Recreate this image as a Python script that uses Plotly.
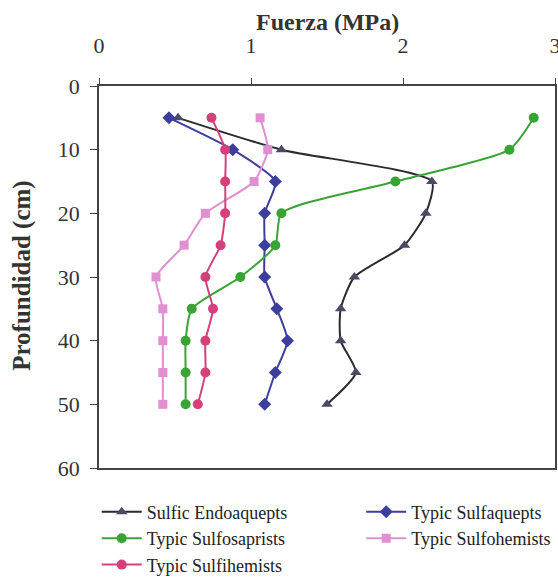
import plotly.graph_objects as go

depth = [5, 10, 15, 20, 25, 30, 35, 40, 45, 50]
sulfic_endoaquepts = [0.52, 1.20, 2.19, 2.15, 2.01, 1.68, 1.59, 1.59, 1.69, 1.50]
typic_sulfaquepts = [0.46, 0.88, 1.16, 1.09, 1.09, 1.09, 1.17, 1.24, 1.16, 1.09]
typic_sulfosaprists = [2.86, 2.70, 1.95, 1.20, 1.16, 0.93, 0.61, 0.57, 0.57, 0.57]
typic_sulfohemists = [1.06, 1.11, 1.02, 0.70, 0.56, 0.375, 0.42, 0.42, 0.42, 0.42]
typic_sulfihemists = [0.74, 0.83, 0.83, 0.83, 0.80, 0.70, 0.75, 0.70, 0.70, 0.65]
x_ticks = [0, 1, 2, 3]

series = [
    ("Sulfic Endoaquepts", sulfic_endoaquepts, "#2b2b2b", "#4a4a66", "triangle-up", 10, "legend"),
    ("Typic Sulfaquepts", typic_sulfaquepts, "#3d3d9e", "#3d3d9e", "diamond", 10, "legend2"),
    ("Typic Sulfosaprists", typic_sulfosaprists, "#3aa335", "#3aa335", "circle", 10, "legend"),
    ("Typic Sulfohemists", typic_sulfohemists, "#e08fd0", "#e08fd0", "square", 9, "legend2"),
    ("Typic Sulfihemists", typic_sulfihemists, "#d4407c", "#d4407c", "circle", 10, "legend"),
]

fig = go.Figure()
for name, vals, lc, mc, sym, sz, lg in series:
    fig.add_trace(go.Scatter(
        x=vals, y=depth, name=name, mode="lines+markers", legend=lg,
        line=dict(color=lc, width=2, shape="spline", smoothing=0.6),
        marker=dict(color=mc, symbol=sym, size=sz),
    ))

serif = "Liberation Serif"
leg_common = dict(
    orientation="v", xanchor="left", yanchor="top",
    font=dict(family=serif, size=18, color="#222"),
    itemwidth=40, bgcolor="rgba(0,0,0,0)", tracegroupgap=0,
)
fig.update_layout(
    width=558, height=584,
    margin=dict(l=99, r=3, t=86, b=116, autoexpand=False),
    paper_bgcolor="white", plot_bgcolor="white",
    font=dict(family=serif, size=22, color="#222"),
    showlegend=True,
    legend=dict(x=-0.005, y=-0.067, **leg_common),
    legend2=dict(x=0.575, y=-0.067, **leg_common),
    xaxis=dict(
        side="top", range=[0, 3], tickmode="array", tickvals=x_ticks,
        showgrid=False, zeroline=False,
        showline=True, linecolor="#444", linewidth=1.5, mirror=True,
        ticks="outside", ticklen=6, tickcolor="#444", automargin=False,
        tickfont=dict(family=serif, size=22, color="#333"),
        ticklabelstandoff=16, ticklabeloverflow="allow",
    ),
    yaxis=dict(
        range=[60, 0], dtick=10, showgrid=False, zeroline=False,
        showline=True, linecolor="#444", linewidth=1.5, mirror=True,
        ticks="outside", ticklen=7, tickcolor="#444", automargin=False,
        tickfont=dict(family=serif, size=22, color="#333"),
        ticklabelstandoff=6,
    ),
    annotations=[
        dict(text="<b>Fuerza (MPa)</b>", xref="paper", yref="paper",
             x=0.5, y=1.168, xanchor="center", yanchor="middle", showarrow=False,
             font=dict(family=serif, size=24, color="#333")),
        dict(text="<b>Profundidad (cm)</b>", xref="paper", yref="paper",
             x=-0.168, y=0.504, xanchor="center", yanchor="middle", showarrow=False,
             textangle=-90, font=dict(family=serif, size=25, color="#333")),
    ],
)

fig.write_html("out.html", config={"displayModeBar": False},
               post_script="document.body.style.margin='0px';")
